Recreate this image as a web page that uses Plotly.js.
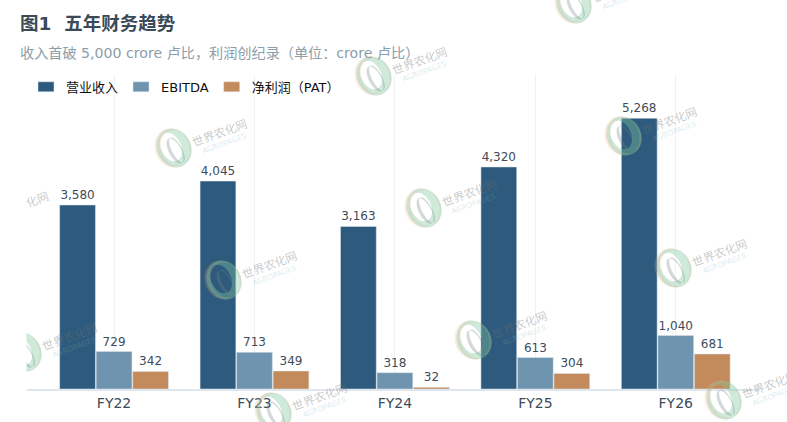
<!DOCTYPE html>
<html lang="zh">
<head>
<meta charset="UTF-8">
<title>五年财务趋势</title>
<script src="https://cdn.plot.ly/plotly-3.0.1.min.js"></script>
<style>
  html, body { margin: 0; padding: 0; background: #fff; }
  #chart { width: 787px; height: 422px; }
</style>
</head>
<body>
<div id="chart"></div>
<script>
const years = ['FY22', 'FY23', 'FY24', 'FY25', 'FY26'];
const revenue = [3580, 4045, 3163, 4320, 5268];
const ebitda = [729, 713, 318, 613, 1040];
const pat = [342, 349, 32, 304, 681];

// watermark logo centres, in page pixels
const logoCentres = [
  [174, 148], [374, 76], [574, 4],
  [24, 352], [224, 280], [424, 208], [624, 136],
  [274, 412], [474, 340], [674, 268], [724, 400]
];

const FONT = '"DejaVu Sans", "Noto Sans CJK SC", sans-serif';
const W = 787, H = 422;
const M = { l: 27, r: 27, t: 75, b: 33 };

// page pixels to plot fractions, annotations and shapes use these
const fx = px => (px - M.l) / (W - M.l - M.r);
const fy = py => (H - M.b - py) / (H - M.t - M.b);

function barTrace(name, values, color) {
  return {
    type: 'bar',
    name: name,
    x: years,
    y: values,
    marker: { color: color, line: { color: '#dfe6ee', width: 0.5 } },
    texttemplate: '%{y:,}',
    textposition: 'outside',
    cliponaxis: false,
    textfont: { family: FONT, size: 12, color: '#3d4b5a' },
    hoverinfo: 'x+y'
  };
}

const traces = [
  barTrace('营业收入', revenue, '#2e5b7d'),
  barTrace('EBITDA', ebitda, '#6f94b0'),
  barTrace('净利润（PAT）', pat, '#c38b5b')
];

function ellipse(cx, cy, rx, ry, deg, reverse) {
  const a = deg * Math.PI / 180;
  const pts = [];
  for (let i = 0; i < 36; i++) {
    const t = (reverse ? -1 : 1) * i * 10 * Math.PI / 180;
    const ex = rx * Math.cos(t), ey = ry * Math.sin(t);
    const px = cx + ex * Math.cos(a) - ey * Math.sin(a);
    const py = cy + ex * Math.sin(a) + ey * Math.cos(a);
    pts.push(fx(px).toFixed(5) + ',' + fy(py).toFixed(5));
  }
  return 'M' + pts.join('L') + 'Z';
}

function crescent(path, color) {
  return { type: 'path', xref: 'paper', yref: 'paper', path: path, fillcolor: color,
    line: { width: 0 }, layer: 'above' };
}

const logoShapes = [];
logoCentres.forEach(([cx, cy]) => {
  logoShapes.push(crescent(ellipse(cx - 2, cy, 20, 17, 65) + ellipse(cx + 2, cy, 18, 15, 65, true), 'rgba(240,170,130,0.22)'));
  logoShapes.push(crescent(ellipse(cx, cy, 20, 17, 65) + ellipse(cx - 3, cy - 1, 15, 10, 65, true), 'rgba(130,200,160,0.38)'));
  logoShapes.push(crescent(ellipse(cx + 1, cy + 3, 14, 6, 62) + ellipse(cx + 3, cy + 2, 14, 5, 62, true), 'rgba(110,130,130,0.3)'));
});
// the watermark layer stops at the left edge of the plot
logoShapes.push({ type: 'rect', xref: 'paper', yref: 'paper', x0: fx(0), x1: fx(26.5), y0: fy(380), y1: fy(325),
  fillcolor: '#ffffff', line: { width: 0 }, layer: 'above' });

function watermarkNote(px, py, text, size, color) {
  return { xref: 'paper', yref: 'paper', x: fx(px), y: fy(py), xanchor: 'center', yanchor: 'middle', text: text,
    textangle: -20, showarrow: false, font: { family: FONT, size: size, color: color } };
}
const watermarkNotes = [];
logoCentres.forEach(([cx, cy]) => {
  watermarkNotes.push(watermarkNote(cx + 46, cy - 15, '世界农化网', 11.5, 'rgba(110,110,110,0.38)'));
  watermarkNotes.push(watermarkNote(cx + 50, cy - 5, 'AGROPAGES', 7.5, 'rgba(130,180,170,0.28)'));
});
watermarkNotes.push(watermarkNote(37, 200, '化网', 11.5, 'rgba(110,110,110,0.38)'));

const layout = {
  width: W,
  height: H,
  margin: M,
  paper_bgcolor: '#ffffff',
  plot_bgcolor: '#ffffff',
  font: { family: FONT },
  barmode: 'group',
  bargap: 0.22,
  bargroupgap: 0.02,
  showlegend: true,
  legend: {
    orientation: 'h',
    x: 0.0, xanchor: 'left',
    y: 1.01, yanchor: 'top',
    bgcolor: 'rgba(0,0,0,0)',
    font: { family: FONT, size: 13, color: '#111111' },
    itemwidth: 30
  },
  xaxis: {
    type: 'category',
    range: [-0.62, 4.6],
    showgrid: true,
    gridcolor: '#f0f1f2',
    gridwidth: 1,
    showline: true,
    linecolor: '#dfe6ee',
    linewidth: 1.5,
    ticks: '',
    tickfont: { family: FONT, size: 14, color: '#3d4b5a' }
  },
  yaxis: {
    range: [0, 6110],
    showgrid: false,
    zeroline: false,
    showticklabels: false,
    ticks: ''
  },
  shapes: logoShapes,
  annotations: [
    { xref: 'paper', yref: 'paper', x: fx(18), y: fy(24), xanchor: 'left', yanchor: 'middle',
      text: '<b>图1\u00a0\u00a0五年财务趋势</b>', showarrow: false,
      font: { family: FONT, size: 18.5, color: '#3a4a58' } },
    { xref: 'paper', yref: 'paper', x: fx(18), y: fy(53), xanchor: 'left', yanchor: 'middle',
      text: '收入首破 5,000 crore 卢比，利润创纪录（单位：crore 卢比）', showarrow: false,
      font: { family: FONT, size: 14.15, color: '#8c9daa' } }
  ].concat(watermarkNotes)
};

Plotly.newPlot('chart', traces, layout, { displayModeBar: false, responsive: false }).then(gd => {
  // wider legend swatches, plotly only draws 12px squares for bars
  gd.querySelectorAll('.legend .legendpoints path').forEach(p => p.setAttribute('d', 'M8,5H-8V-5H8Z'));
  // tighten the entry spacing a bit
  const shift = [-1, -3, -5];
  gd.querySelectorAll('.legend .traces').forEach((t, i) => {
    const m = /translate\(([-\d.]+),\s*([-\d.]+)\)/.exec(t.getAttribute('transform'));
    t.setAttribute('transform', `translate(${+m[1] + shift[i]},${m[2]})`);
  });
});
</script>
</body>
</html>
